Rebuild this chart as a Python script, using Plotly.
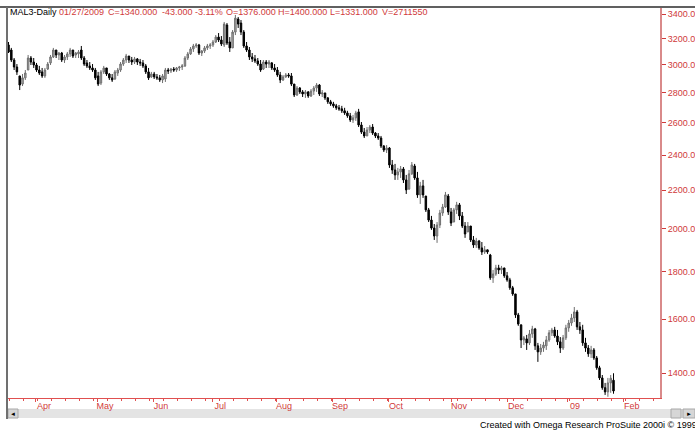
import plotly.graph_objects as go

# ---- data (MAL3 daily, ~Mar 2008 .. 27 Jan 2009) ----
opens = [3150,3111,3035,2983,2918,2860,2904,2961,3050,3020,2998,2961,2947,2918,2968,3013,3058,3111,3073,3088,
         3035,3058,3081,3111,3073,3081,3111,3050,3013,2991,2976,2961,2918,2867,2947,2976,2932,2904,2896,2939,
         2961,3005,3035,3065,3035,3020,3043,3020,3013,2991,2947,2911,2932,2911,2904,2889,2896,2961,2954,2968,
         2961,2976,2983,2991,3050,3081,3119,3142,3150,3088,3103,3127,3142,3150,3173,3212,3189,3150,3309,3173,
         3127,3252,3358,3325,3252,3142,3111,3058,3043,3028,3005,2968,3020,3005,3013,2976,2961,2925,2889,2911,
         2925,2918,2860,2784,2832,2805,2791,2805,2777,2811,2832,2853,2791,2798,2764,2737,2723,2710,2697,2690,
         2677,2663,2644,2617,2631,2670,2585,2540,2516,2553,2572,2534,2516,2503,2454,2430,2442,2342,2313,2285,
         2302,2319,2257,2207,2291,2336,2268,2175,2224,2169,2096,2044,2004,1965,2019,2080,2111,2169,2085,2034,
         2096,2122,2065,2014,1985,2014,1946,1922,1941,1908,1889,1899,1875,1772,1789,1816,1807,1816,1781,1763,
         1729,1703,1617,1578,1520,1524,1509,1543,1562,1498,1476,1490,1498,1520,1547,1558,1535,1513,1490,1528,
         1566,1585,1605,1629,1570,1558,1509,1490,1469,1483,1454,1419,1384,1351,1337,1367,1376]
highs = [3173,3127,3050,3005,2918,2932,2961,3073,3065,3050,3013,2991,2976,2976,3020,3073,3127,3111,3096,3096,
         3073,3096,3127,3111,3096,3111,3142,3065,3035,3020,3005,2976,2947,2961,2991,2976,2939,2932,2961,2976,
         3020,3050,3081,3065,3058,3058,3050,3043,3035,3005,2976,2947,2947,2932,2925,2932,2976,2976,2976,2983,
         2983,2991,3005,3065,3096,3134,3158,3165,3158,3111,3142,3158,3165,3189,3228,3244,3220,3334,3325,3212,
         3268,3392,3375,3350,3268,3173,3134,3088,3073,3050,3035,3035,3035,3035,3020,3005,2983,2947,2925,2939,
         2939,2939,2860,2846,2839,2818,2818,2811,2825,2846,2867,2860,2818,2798,2770,2750,2737,2723,2716,2710,
         2697,2677,2663,2650,2677,2690,2604,2566,2572,2585,2591,2540,2534,2516,2460,2460,2448,2371,2348,2325,
         2336,2330,2285,2313,2359,2348,2302,2246,2257,2169,2106,2065,2024,2034,2096,2127,2191,2180,2106,2106,
         2138,2132,2085,2034,2034,2014,1965,1956,1946,1936,1917,1899,1880,1807,1830,1830,1825,1816,1798,1772,
         1737,1703,1625,1578,1535,1539,1558,1574,1566,1509,1505,1513,1535,1558,1566,1570,1558,1531,1539,1578,
         1597,1621,1649,1637,1589,1578,1528,1501,1498,1490,1461,1426,1394,1367,1384,1394,1400]
lows =  [3088,3020,2961,2925,2818,2846,2889,2961,2998,2976,2947,2925,2904,2904,2961,2998,3050,3050,3035,3020,
         3013,3035,3058,3050,3050,3050,3035,2991,2976,2961,2947,2889,2846,2853,2932,2918,2889,2875,2889,2918,
         2947,2991,3013,3013,2998,3005,2998,2991,2976,2932,2889,2904,2896,2889,2875,2867,2875,2932,2939,2947,
         2947,2954,2961,2983,3035,3073,3096,3127,3073,3065,3088,3111,3119,3134,3165,3173,3142,3134,3150,3096,
         3127,3228,3285,3228,3127,3096,3035,3020,3013,2991,2947,2961,2976,2976,2961,2947,2911,2867,2882,2904,
         2904,2846,2770,2777,2791,2770,2764,2764,2770,2784,2805,2777,2770,2750,2723,2710,2697,2683,2677,2663,
         2650,2631,2604,2598,2611,2572,2528,2503,2516,2534,2522,2503,2491,2442,2418,2412,2325,2291,2257,2257,
         2268,2240,2180,2202,2285,2257,2159,2127,2159,2085,2034,1995,1946,1932,2004,2065,2106,2070,2014,2034,
         2075,2044,2004,1956,1985,1936,1908,1908,1899,1875,1880,1880,1763,1750,1781,1789,1789,1772,1755,1720,
         1695,1605,1574,1490,1501,1483,1501,1528,1483,1440,1465,1476,1483,1513,1535,1528,1501,1472,1483,1520,
         1551,1574,1589,1558,1543,1498,1476,1458,1454,1447,1412,1377,1344,1327,1321,1334,1331]
closes = [3096,3035,2983,2947,2853,2904,2939,3050,3020,2998,2961,2939,2918,2961,3005,3058,3111,3073,3088,3035,
          3058,3081,3111,3065,3088,3096,3050,3005,2991,2976,2961,2904,2860,2947,2976,2932,2904,2889,2947,2961,
          3005,3035,3065,3035,3020,3043,3020,3013,2991,2947,2904,2932,2911,2904,2889,2918,2961,2954,2968,2961,
          2976,2983,2991,3050,3081,3119,3142,3150,3088,3103,3127,3142,3150,3173,3212,3189,3158,3317,3165,3127,
          3252,3366,3317,3252,3142,3111,3058,3043,3028,3005,2961,3020,3005,3020,2976,2961,2925,2889,2911,2925,
          2918,2860,2784,2832,2805,2791,2805,2777,2811,2832,2853,2791,2798,2764,2737,2723,2710,2697,2690,2677,
          2663,2644,2617,2631,2663,2585,2540,2516,2553,2572,2534,2516,2503,2454,2430,2442,2342,2313,2285,2302,
          2319,2257,2202,2291,2342,2268,2175,2224,2175,2096,2044,2004,1965,2019,2080,2111,2175,2085,2029,2096,
          2122,2065,2014,1975,2014,1946,1922,1941,1908,1889,1899,1889,1772,1789,1816,1807,1816,1781,1763,1729,
          1703,1617,1581,1520,1528,1509,1543,1562,1498,1476,1490,1501,1520,1547,1558,1535,1513,1490,1528,1566,
          1585,1605,1629,1570,1558,1509,1490,1469,1483,1454,1419,1384,1351,1337,1367,1383,1340]
bar_index = list(range(len(closes)))

month_labels = ["Apr", "May", "Jun", "Jul", "Aug", "Sep", "Oct", "Nov", "Dec", "09", "Feb"]
month_pos = [9.8, 31.6, 51.6, 72.7, 95.5, 115.5, 135.5, 158.0, 178.3, 199.4, 219.7]
price_ticks = [1400, 1600, 1800, 2000, 2200, 2400, 2600, 2800, 3000, 3200, 3400]
price_labels = ["%.2f" % v for v in price_ticks]

header_black = "MAL3-Daily"
header_fields = ["01/27/2009", "C=1340.000", "-43.000", "-3.11%", "O=1376.000",
                 "H=1400.000", "L=1331.000", "V=2711550"]
header_px = [57, 106, 160, 193, 224, 276, 328, 380]
footer = "Created with Omega Research ProSuite 2000i \u00a9 1999"

# ---- geometry ----
W, H = 695, 430
L, R, T, B = 7, 35, 8, 32
PW, PH = W - L - R, H - T - B
RED = "#d03a3a"
AXRED = "#d98a8a"
FONT = "Liberation Sans, Arial, sans-serif"

def px(x):
    return (x - L) / PW

def py(y):
    return (H - B - y) / PH

fig = go.Figure(go.Candlestick(
    x=bar_index, open=opens, high=highs, low=lows, close=closes,
    increasing=dict(line=dict(color="#6e6e6e", width=1), fillcolor="#b0b0b0"),
    decreasing=dict(line=dict(color="#000000", width=1), fillcolor="#000000"),
    whiskerwidth=0, hoverinfo="none", showlegend=False,
))

minor_pos = [0.3 + 5 * k for k in range(47)]

fig.update_layout(
    width=W, height=H, margin=dict(l=L, r=R, t=T, b=B, autoexpand=False),
    paper_bgcolor="white", plot_bgcolor="white",
    boxgap=0.25,
    font=dict(family=FONT, size=9, color="black"),
    xaxis=dict(
        range=[-0.54, 232.6], rangeslider=dict(visible=False),
        showgrid=False, zeroline=False,
        showline=True, linecolor="#e05050", linewidth=1,
        tickmode="array", tickvals=month_pos, ticktext=month_labels,
        ticks="outside", ticklen=3, tickcolor="#e05050", tickwidth=1,
        tickfont=dict(family=FONT, size=9, color=RED),
        ticklabelshift=8, ticklabelstandoff=-4,
        minor=dict(tickmode="array", tickvals=minor_pos, ticks="outside",
                   ticklen=2, tickcolor="#e05050", showgrid=False),
    ),
    yaxis=dict(
        type="log", side="right",
        range=[3.11959, 3.53795],
        showgrid=False, zeroline=False,
        showline=True, linecolor=AXRED, linewidth=2,
        tickmode="array", tickvals=price_ticks, ticktext=price_labels,
        ticks="outside", ticklen=4, tickcolor=RED, tickwidth=1,
        tickfont=dict(family=FONT, size=9, color=RED),
    ),
)

shapes = []
# top border and left border
shapes.append(dict(type="line", xref="paper", yref="paper", x0=px(0), x1=px(W), y0=py(7), y1=py(7),
                   line=dict(color="#606060", width=2)))
shapes.append(dict(type="line", xref="paper", yref="paper", x0=px(7), x1=px(7), y0=py(7), y1=py(419),
                   line=dict(color="#707070", width=2)))
# scrollbar track
shapes.append(dict(type="rect", xref="paper", yref="paper", x0=px(8), x1=px(695), y0=py(418), y1=py(409),
                   fillcolor="#e4e4e4", line=dict(width=0), layer="below"))
# left arrow button
shapes.append(dict(type="rect", xref="paper", yref="paper", x0=px(8), x1=px(18), y0=py(418), y1=py(409),
                   fillcolor="#d6d6d6", line=dict(color="#a8a8a8", width=1), layer="below"))
# thumb and right arrow button
shapes.append(dict(type="rect", xref="paper", yref="paper", x0=px(671), x1=px(681), y0=py(418), y1=py(409),
                   fillcolor="#d6d6d6", line=dict(color="#a8a8a8", width=1), layer="below"))
shapes.append(dict(type="rect", xref="paper", yref="paper", x0=px(683), x1=px(695), y0=py(418), y1=py(409),
                   fillcolor="#d6d6d6", line=dict(color="#a8a8a8", width=1), layer="below"))
fig.update_layout(shapes=shapes)

ann = [dict(xref="paper", yref="paper", x=px(8), y=py(12), xanchor="left", yanchor="middle",
            text=header_black, showarrow=False, font=dict(family=FONT, size=9, color="black"))]
for t, xp in zip(header_fields, header_px):
    ann.append(dict(xref="paper", yref="paper", x=px(xp), y=py(12), xanchor="left", yanchor="middle",
                    text=t, showarrow=False, font=dict(family=FONT, size=9, color=RED)))
ann.append(dict(xref="paper", yref="paper", x=px(13), y=py(413.5), xanchor="center", yanchor="middle",
                text="\u25c4", showarrow=False, font=dict(size=6, color="black")))
ann.append(dict(xref="paper", yref="paper", x=px(689), y=py(413.5), xanchor="center", yanchor="middle",
                text="\u25ba", showarrow=False, font=dict(size=6, color="black")))
ann.append(dict(xref="paper", yref="paper", x=px(699), y=py(425), xanchor="right", yanchor="middle",
                text=footer, showarrow=False, font=dict(family=FONT, size=9, color="black")))
fig.update_layout(annotations=ann)

fig.write_html("out.html", config={"displayModeBar": False},
               post_script="document.body.style.margin='0';document.body.style.overflow='hidden';")
